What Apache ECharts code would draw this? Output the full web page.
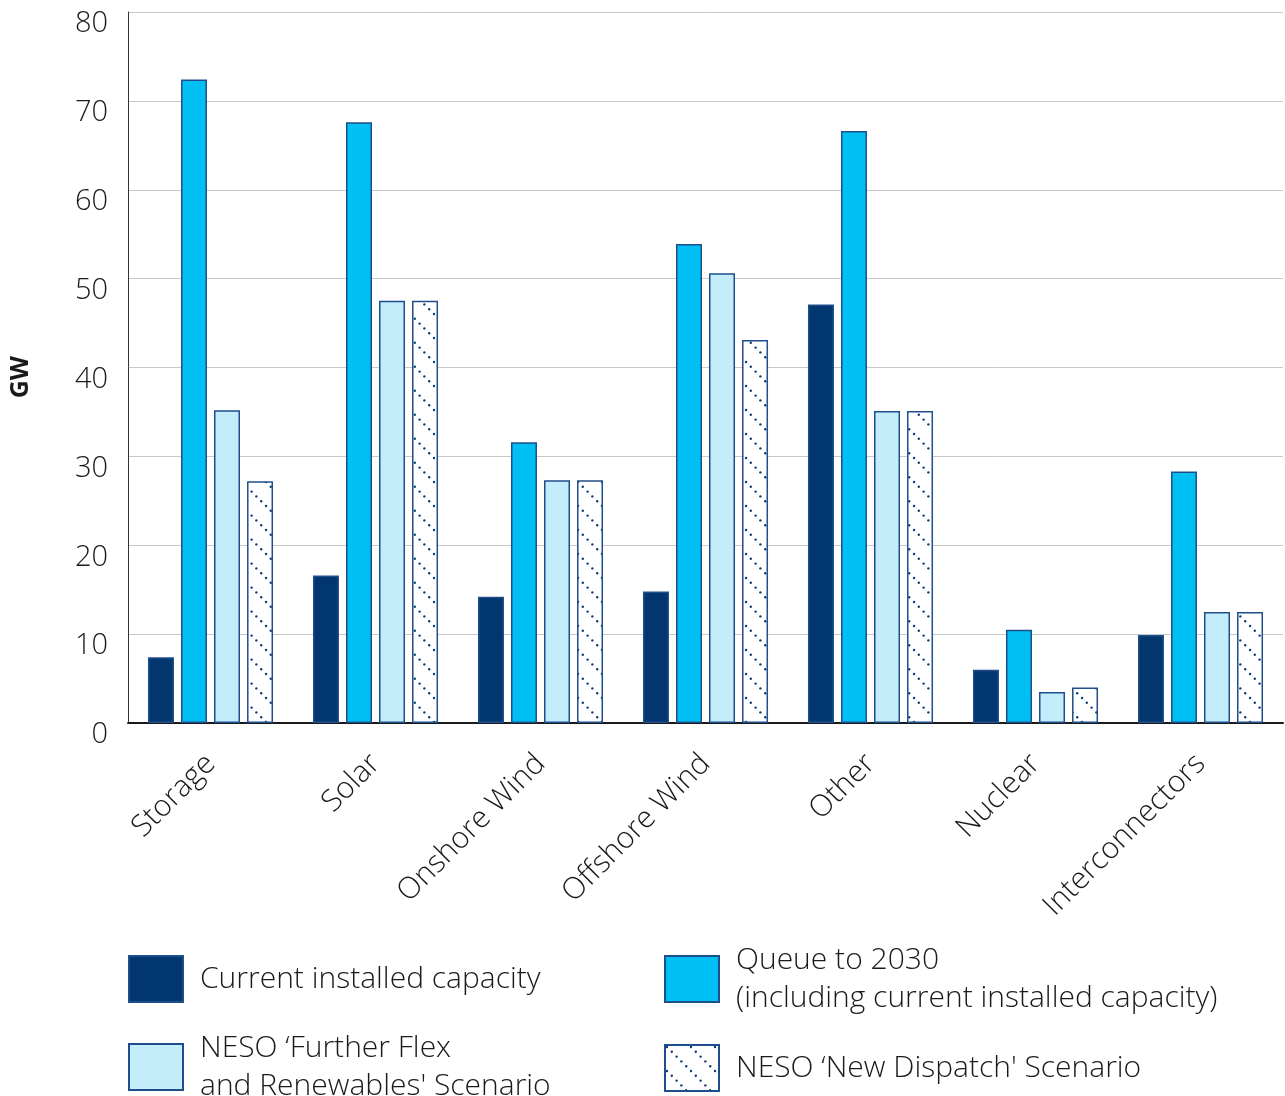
<!DOCTYPE html>
<html><head><meta charset="utf-8">
<script src="https://cdn.jsdelivr.net/npm/echarts@6/dist/echarts.min.js"></script>
<style>html,body{margin:0;padding:0;background:#fff}#c{width:1285px;height:1096px}</style>
</head><body><div id="c"></div>
<script>
const categories = ['Storage','Solar','Onshore Wind','Offshore Wind','Other','Nuclear','Interconnectors'];
const currentInstalled = [7.4, 16.6, 14.2, 14.8, 47.1, 6.0, 9.9];
const queueTo2030 = [72.4, 67.6, 31.6, 53.9, 66.6, 10.5, 28.3];
const furtherFlex = [35.2, 47.5, 27.3, 50.6, 35.1, 3.5, 12.5];
const newDispatch = [27.2, 47.5, 27.3, 43.1, 35.1, 4.0, 12.5];
const seriesNames = ['Current installed capacity','Queue to 2030','NESO \u2018Further Flex and Renewables\' Scenario','NESO \u2018New Dispatch\' Scenario'];
const legendLabels = {
  'Current installed capacity':'Current installed capacity',
  'Queue to 2030':'Queue to 2030\n(including current installed capacity)',
  'NESO \u2018Further Flex and Renewables\' Scenario':'NESO \u2018Further Flex\nand Renewables\' Scenario',
  'NESO \u2018New Dispatch\' Scenario':'NESO \u2018New Dispatch\' Scenario'
};

// dotted diagonal pattern
const pc = document.createElement('canvas');
pc.width = 24; pc.height = 24;
const ctx = pc.getContext('2d');
ctx.fillStyle = '#ffffff'; ctx.fillRect(0,0,24,24);
ctx.fillStyle = '#0d3b7a';
for (let i = 0; i < 5; i++) { ctx.beginPath(); ctx.arc(i*4.8+2, i*4.8+2, 1.2, 0, Math.PI*2); ctx.fill(); }
const hatch = {image: pc, repeat: 'repeat'};

const font = '"Open Sans", Lato, sans-serif';
const chart = echarts.init(document.getElementById('c'), null, {renderer:'canvas'});
const border = '#1f4e8c';
function mk(name, data, color) {
  return {name, type:'bar', data, barWidth:26, barGap:'27%',
    itemStyle:{color, borderColor:border, borderWidth:1.5}, emphasis:{disabled:true}, animation:false};
}
function leg(name, left, top) {
  return {data:[name], left, top, orient:'vertical', itemWidth:54, itemHeight:46, itemGap:0,
    icon:'rect', selectedMode:false, padding:0,
    formatter: n => legendLabels[n],
    textStyle:{fontFamily:font, fontSize:30, fontWeight:300, color:'#1a1a1a', lineHeight:38, padding:[0,0,0,12]}};
}
chart.setOption({
  animation:false,
  grid:{left:128, right:2, top:12, bottom:373, containLabel:false, outerBoundsMode:'none'},
  legend:[
    leg(seriesNames[0], 128, 955),
    leg(seriesNames[1], 664, 941),
    leg(seriesNames[2], 128, 1029),
    leg(seriesNames[3], 664, 1044)
  ],
  graphic:[{type:'text', left:8, top:356, rotation:Math.PI/2,
    style:{text:'GW', fontFamily:font, fontSize:25, fontWeight:'bold', fill:'#1a1a1a'}}],
  xAxis:{type:'category', data:categories,
    axisLine:{lineStyle:{color:'#1a1a1a', width:2}}, axisTick:{show:false},
    axisLabel:{rotate:45, margin:36, fontFamily:font, fontSize:30, fontWeight:300, color:'#1a1a1a', interval:0}},
  yAxis:{type:'value', min:0, max:80, interval:10,
    axisLine:{show:true, lineStyle:{color:'#333', width:1}},
    splitLine:{lineStyle:{color:'#c8c8c8', width:1}},
    axisLabel:{fontFamily:font, fontSize:29, fontWeight:300, color:'#1a1a1a', margin:20, verticalAlign:'top', lineHeight:24}},
  series:[
    mk(seriesNames[0], currentInstalled, '#02366f'),
    mk(seriesNames[1], queueTo2030, '#00bff2'),
    mk(seriesNames[2], furtherFlex, '#c3edfb'),
    mk(seriesNames[3], newDispatch, hatch)
  ]
});
</script></body></html>
